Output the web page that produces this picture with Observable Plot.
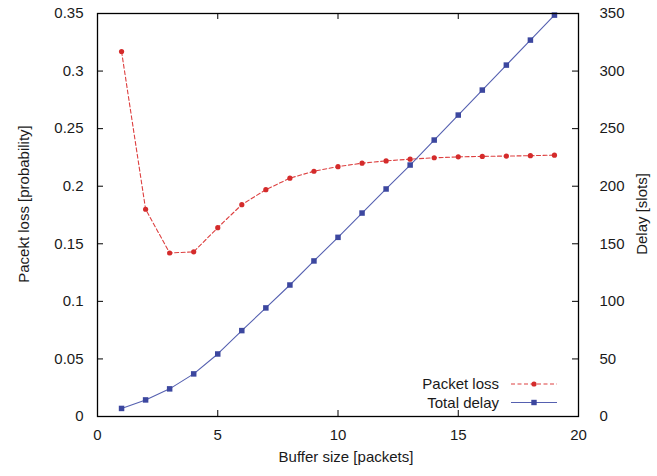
<!DOCTYPE html>
<html><head><meta charset="utf-8">
<script src="https://cdn.jsdelivr.net/npm/d3@7"></script>
<script src="https://cdn.jsdelivr.net/npm/@observablehq/plot@0.6"></script>
<style>
html,body{margin:0;padding:0;background:#fff;}
#chart svg{display:block;}
</style></head><body><div id="chart"></div>
<script>
// ---- data ----
const bufferSize = [1,2,3,4,5,6,7,8,9,10,11,12,13,14,15,16,17,18,19];
const packetLoss = [0.317,0.180,0.142,0.143,0.164,0.184,0.197,0.207,0.213,0.217,0.220,0.222,0.2235,0.2247,0.2255,0.2259,0.2262,0.2265,0.227];
const totalDelay = [7,14.4,24,37,54.3,74.6,94.3,114.2,135.1,155.6,176.7,197.6,218.4,240.1,261.8,283.5,305.2,326.9,348.6];
const xTicks = [0,5,10,15,20];
const lossTicks = [0,0.05,0.1,0.15,0.2,0.25,0.3,0.35];
const delayTicks = [0,50,100,150,200,250,300,350];
const seriesNames = ["Packet loss","Total delay"];
const lossMax = 0.35, delayMax = 350;

const toLoss = d => d * lossMax / delayMax;
const rows = bufferSize.map((b,i) => ({b, loss: packetLoss[i], delay: totalDelay[i]}));

const W = 657, H = 476, mL = 97, mR = 79, mT = 13, mB = 60;
const plotW = W - mL - mR, plotH = H - mT - mB;
const red = "#d42b2b", redLine = "#dd4040", blue = "#3c479f", blueLine = "#5560b0";
const tick = 6;
const FONT = "'Liberation Sans', Arial, Helvetica, sans-serif";

const chart = Plot.plot({
  width: W, height: H,
  marginLeft: mL, marginRight: mR, marginTop: mT, marginBottom: mB,
  style: {fontSize: "15px", fontFamily: FONT, color: "#1a1a1a", background: "#fff"},
  x: {domain: [0, 20]},
  y: {domain: [0, lossMax]},
  marks: [
    Plot.axisX(xTicks, {anchor: "bottom", tickSize: 0, tickPadding: 13, label: null}),
    Plot.axisY(lossTicks, {anchor: "left", tickSize: 0, tickPadding: 14, label: null,
      tickFormat: d => String(+d.toFixed(2))}),
    Plot.axisY(delayTicks.map(toLoss), {anchor: "right", tickSize: 0, tickPadding: 21, label: null, textAnchor: "start",
      tickFormat: d => String(Math.round(d * delayMax / lossMax))}),
    Plot.tickX(xTicks, {insetTop: plotH - tick, stroke: "#000"}),
    Plot.tickX(xTicks, {insetBottom: plotH - tick, stroke: "#000"}),
    Plot.tickY(lossTicks, {insetRight: plotW - tick, stroke: "#000"}),
    Plot.tickY(delayTicks.map(toLoss), {insetLeft: plotW - tick, stroke: "#000"}),
    Plot.line(rows, {x: "b", y: "loss", stroke: redLine, strokeWidth: 1.1, strokeDasharray: "4,2.5"}),
    Plot.dot(rows, {x: "b", y: "loss", r: 2.6, fill: red, stroke: null}),
    Plot.line(rows, {x: "b", y: d => toLoss(d.delay), stroke: blueLine, strokeWidth: 1.1}),
    Plot.dot(rows, {x: "b", y: d => toLoss(d.delay), symbol: "square", r: 3.1, fill: blue, stroke: null}),
    Plot.frame({stroke: "#000", strokeWidth: 1.3}),
    Plot.text(["Buffer size [packets]"], {frameAnchor: "bottom", textAnchor: "middle", dy: 45, dx: 8}),
    Plot.text(["Pacekt loss [probability]"], {frameAnchor: "left", textAnchor: "middle", rotate: -90, dx: -73, dy: -11}),
    Plot.text(["Delay [slots]"], {frameAnchor: "right", textAnchor: "middle", rotate: -90, dx: 64, dy: -1})
  ]
});
document.getElementById("chart").appendChild(chart);

// ---- legend (inside, bottom right) ----
const svg = d3.select(chart);
const lg = svg.append("g").attr("font-size", 15).attr("font-family", FONT).attr("fill", "#1a1a1a");
const entries = [
  {name: seriesNames[0], color: red, line: redLine, dash: "4,2.5", shape: "dot"},
  {name: seriesNames[1], color: blue, line: blueLine, dash: null, shape: "square"}
];
entries.forEach((e, i) => {
  const cy = 384 + i * 18.5;
  lg.append("text").attr("x", 499).attr("y", cy).attr("dy", "0.35em").attr("text-anchor", "end").text(e.name);
  const ln = lg.append("line").attr("x1", 511).attr("x2", 557).attr("y1", cy).attr("y2", cy)
    .attr("stroke", e.line).attr("stroke-width", 1.1);
  if (e.dash) ln.attr("stroke-dasharray", e.dash);
  if (e.shape === "dot") lg.append("circle").attr("cx", 534).attr("cy", cy).attr("r", 2.6).attr("fill", e.color);
  else lg.append("rect").attr("x", 534 - 2.7).attr("y", cy - 2.7).attr("width", 5.4).attr("height", 5.4).attr("fill", e.color);
});
</script>
</body></html>
